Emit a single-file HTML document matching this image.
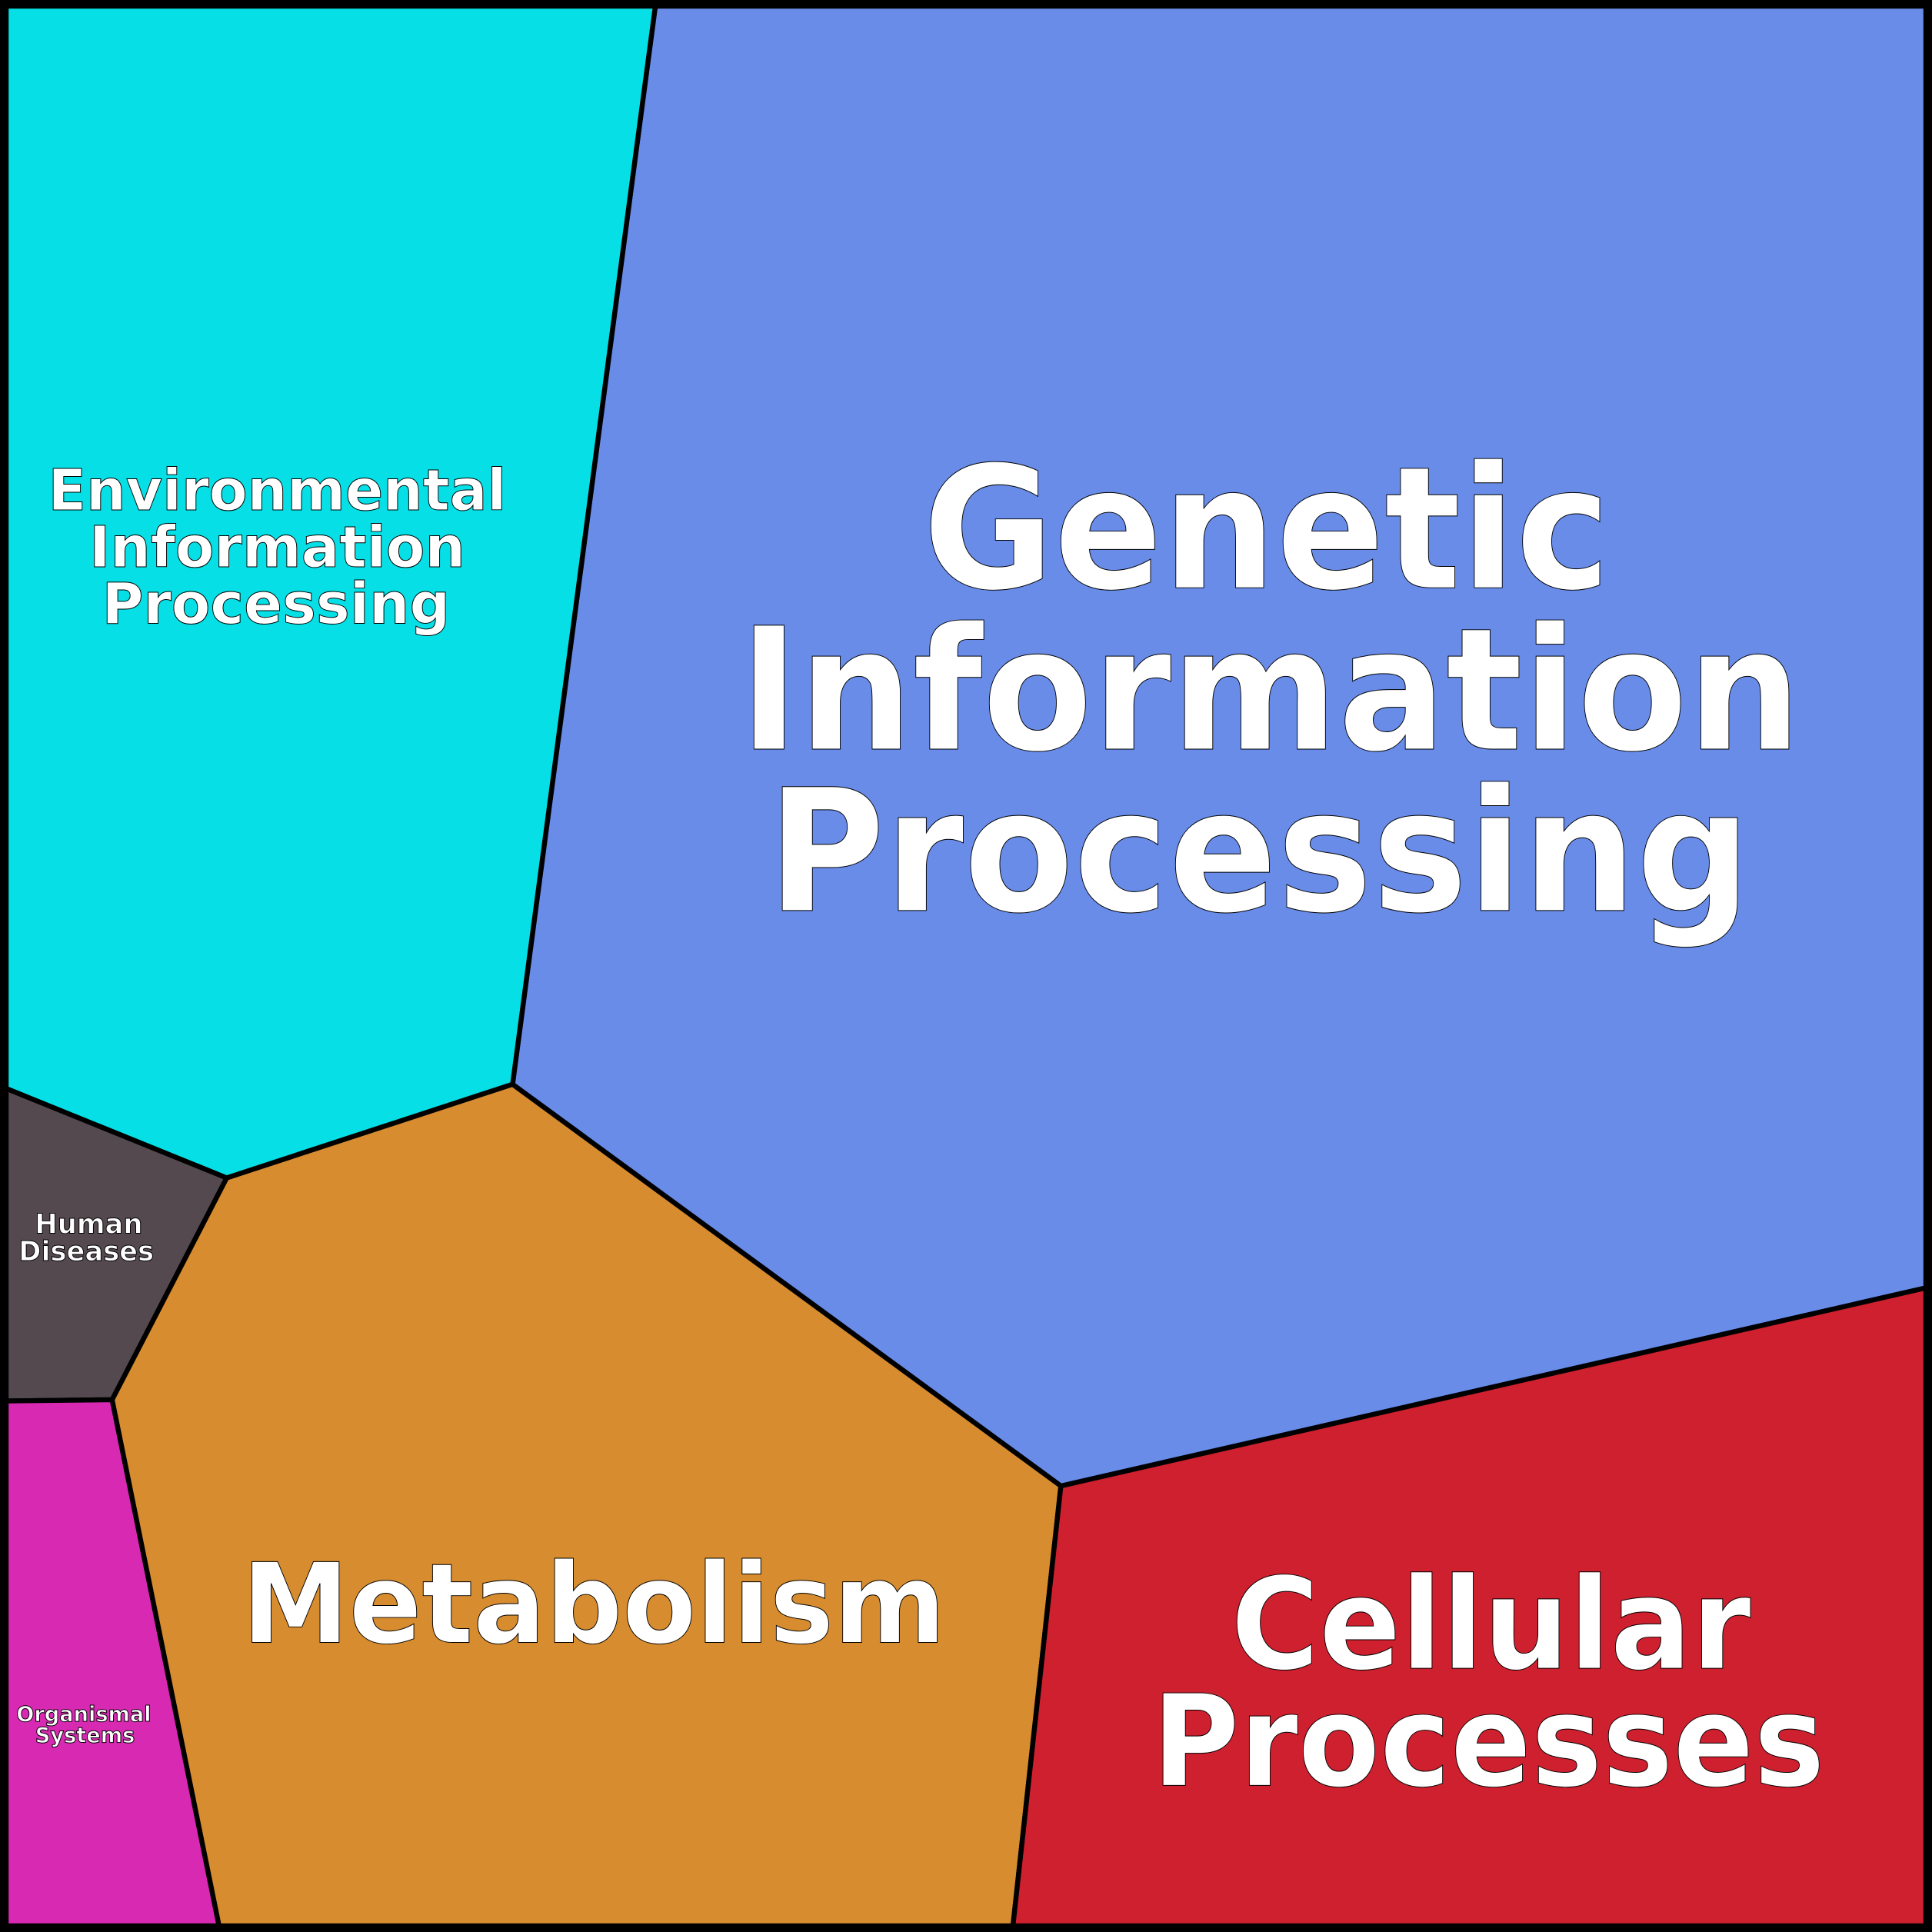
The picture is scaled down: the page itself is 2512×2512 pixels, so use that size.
<!DOCTYPE html>
<html><head><meta charset="utf-8"><style>
html,body{margin:0;padding:0;background:#fff}
svg{display:block}
text{font-family:"DejaVu Sans","Liberation Sans",sans-serif;font-weight:bold;fill:#fff;stroke:#000;stroke-width:0.6;text-anchor:middle}
</style></head><body>
<svg width="2512" height="2512" viewBox="0 0 1568 1568" xmlns="http://www.w3.org/2000/svg">
<g stroke="#000" stroke-width="4" stroke-linejoin="round">
<polygon points="532,4 1564,4 1564,1045 861,1206 416,880" fill="#688ce8"/>
<polygon points="4,4 532,4 416,880 184,956 4,883" fill="#06dfe5"/>
<polygon points="4,883 184,956 91,1136 4,1137" fill="#53494f"/>
<polygon points="4,1137 91,1136 178,1564 4,1564" fill="#d829b3"/>
<polygon points="184,956 416,880 861,1206 822,1564 178,1564 91,1136" fill="#d68c2f"/>
<polygon points="861,1206 1564,1045 1564,1564 822,1564" fill="#ce202e"/>
</g>
<rect x="3.5" y="3.5" width="1561" height="1561" fill="none" stroke="#000" stroke-width="7"/>
<g font-size="138" lengthAdjust="spacingAndGlyphs">
<text x="1028" y="477" textLength="558" lengthAdjust="spacingAndGlyphs">Genetic</text>
<text x="1031" y="608" textLength="862" lengthAdjust="spacingAndGlyphs">Information</text>
<text x="1022" y="739" textLength="798" lengthAdjust="spacingAndGlyphs">Processing</text>
</g>
<g font-size="46">
<text x="225" y="414" textLength="372" lengthAdjust="spacingAndGlyphs">Environmental</text>
<text x="225" y="460">Information</text>
<text x="224" y="506">Processing</text>
</g>
<text x="482" y="1333" font-size="90" textLength="571" lengthAdjust="spacingAndGlyphs">Metabolism</text>
<g font-size="103">
<text x="1210" y="1354" textLength="422" lengthAdjust="spacingAndGlyphs">Cellular</text>
<text x="1208" y="1449" textLength="546" lengthAdjust="spacingAndGlyphs">Processes</text>
</g>
<g font-size="22" style="stroke-width:0.3">
<text x="72" y="1001">Human</text>
<text x="70" y="1023">Diseases</text>
</g>
<g font-size="17" style="stroke-width:0.3">
<text x="68" y="1397">Organismal</text>
<text x="69" y="1414">Systems</text>
</g>
</svg>
</body></html>
